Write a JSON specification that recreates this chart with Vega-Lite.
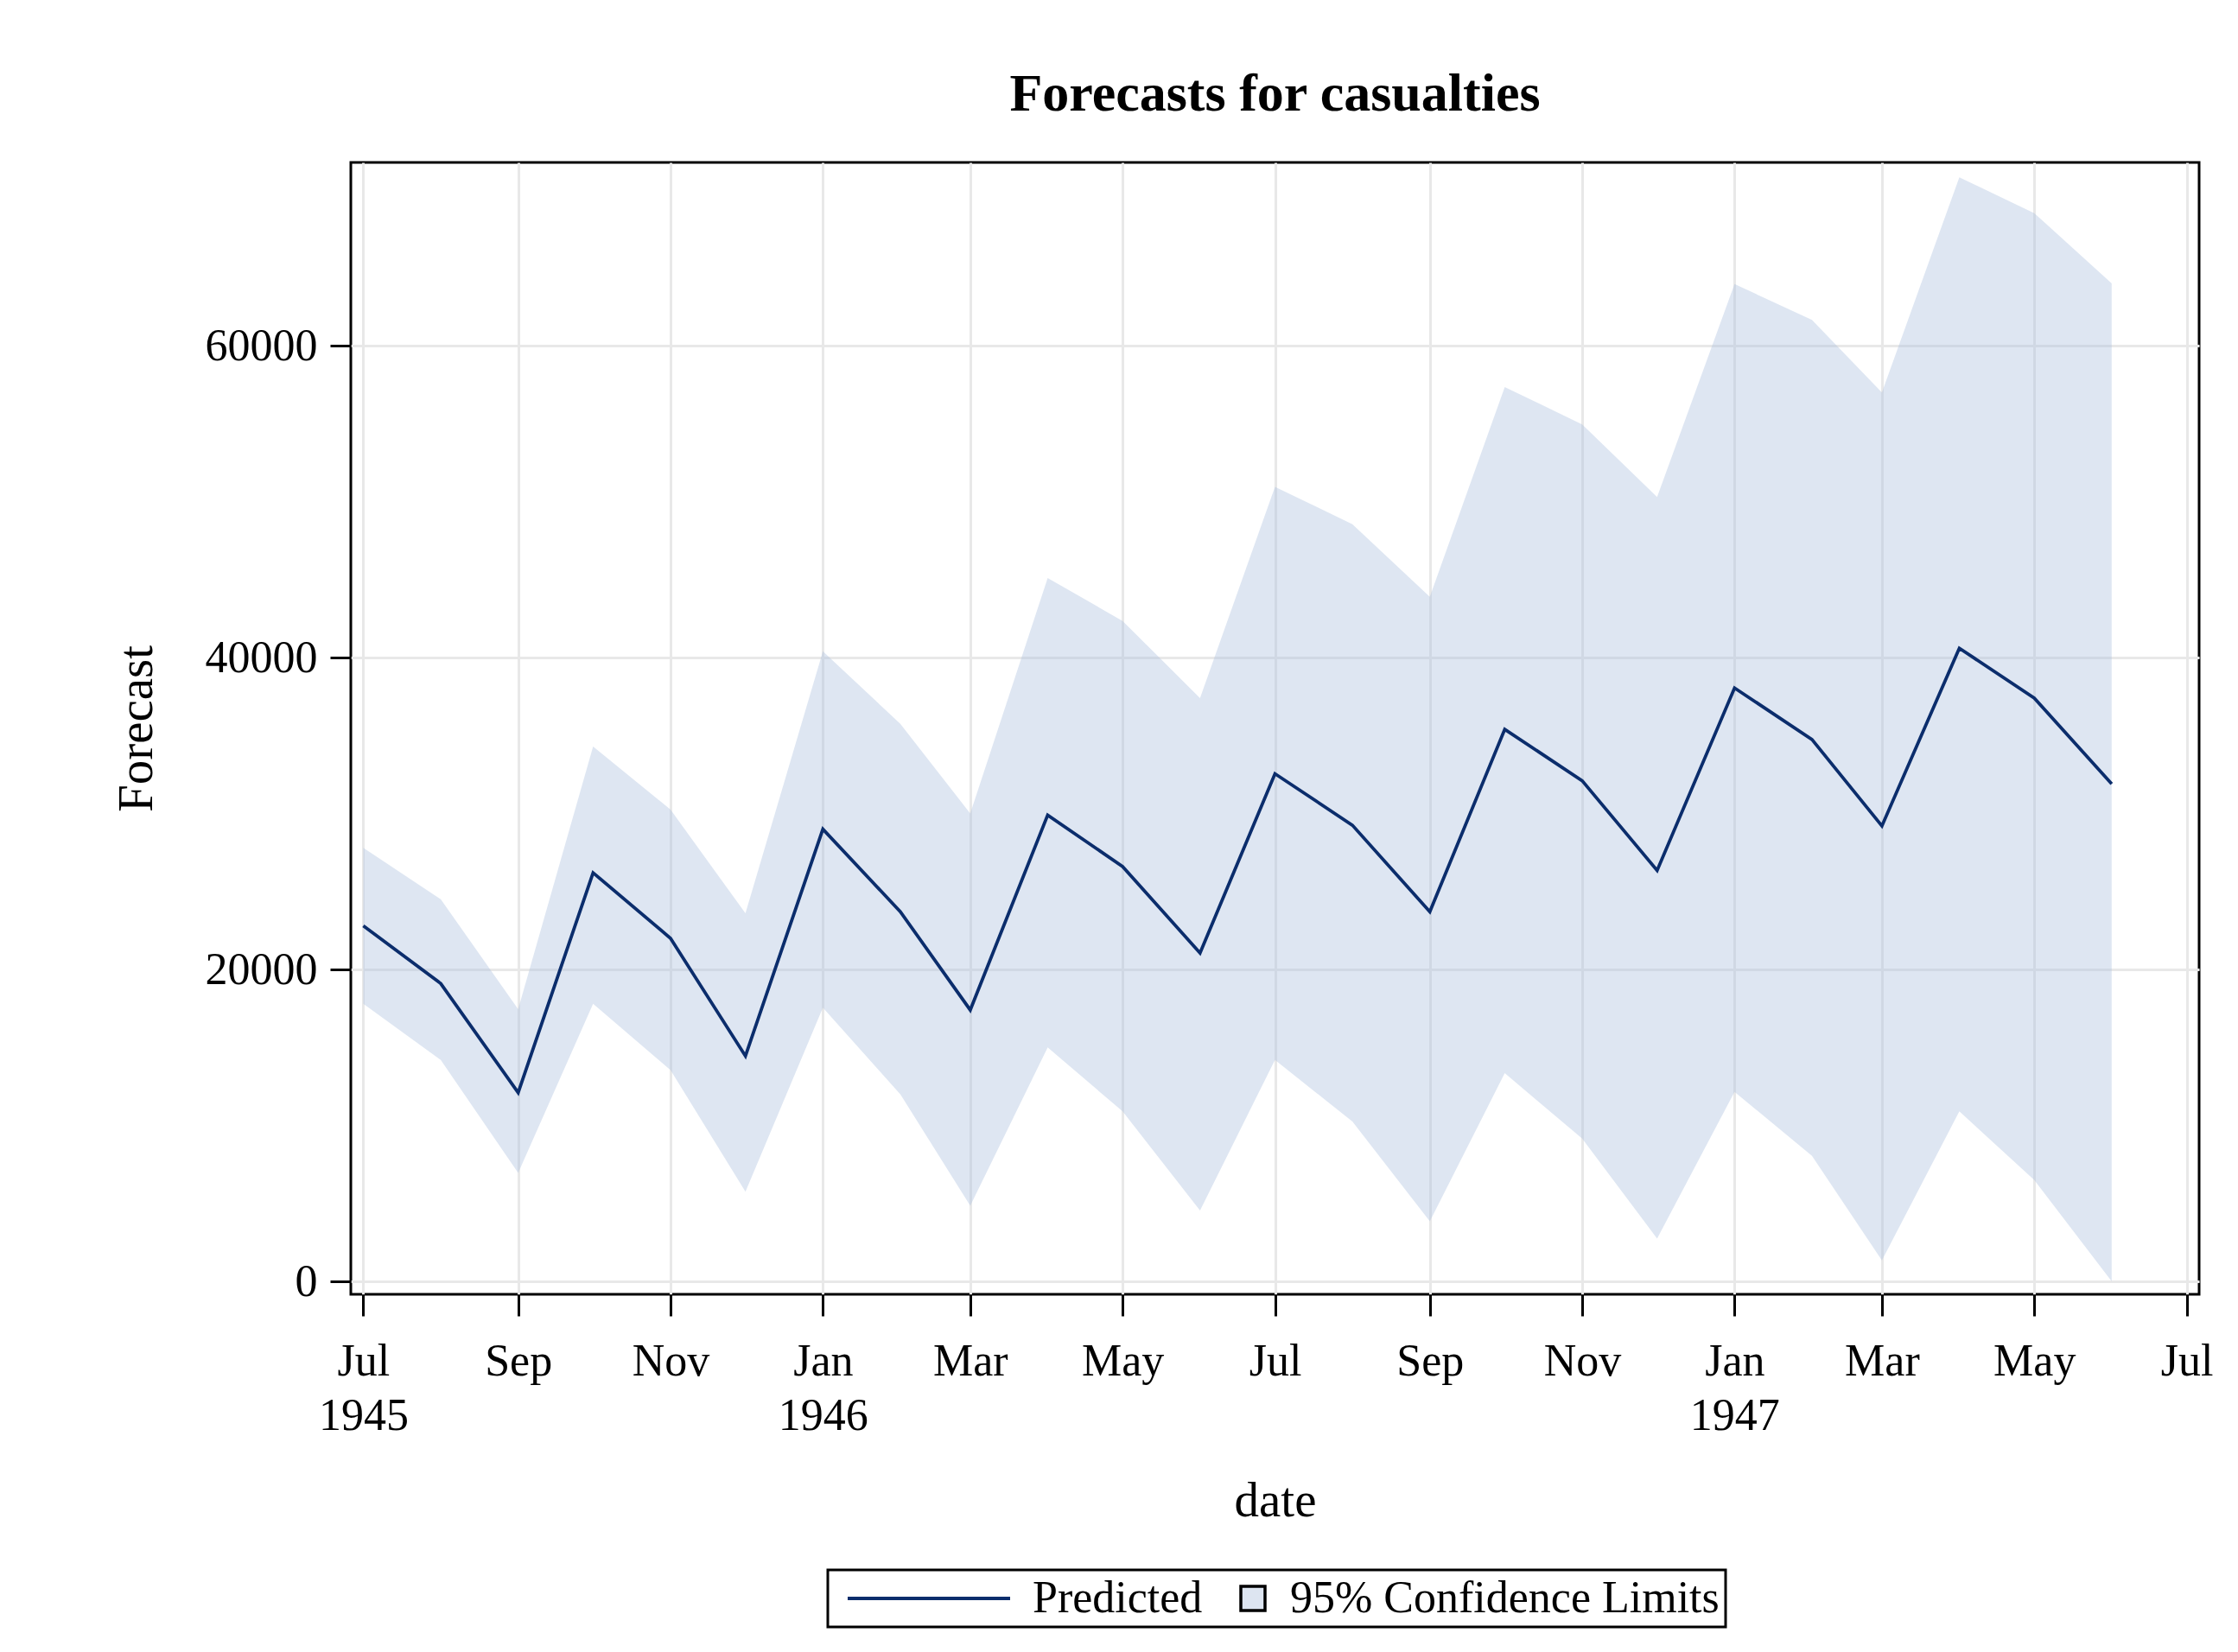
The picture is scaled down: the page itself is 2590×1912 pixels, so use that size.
{
  "$schema": "https://vega.github.io/schema/vega-lite/v6.json",
  "autosize": "none",
  "width": 2139,
  "height": 1310,
  "padding": {"left": 406, "top": 188, "right": 45, "bottom": 414},
  "background": "white",
  "title": {"text": "Forecasts for casualties", "font": "Liberation Serif", "fontSize": 62, "fontWeight": "bold", "color": "black", "baseline": "alphabetic", "offset": -2, "anchor": "middle"},
  "data": {"values": [
    {"date": "1945-07-01", "predicted": 22800, "lower": 17800, "upper": 27800},
    {"date": "1945-08-01", "predicted": 19100, "lower": 14200, "upper": 24500},
    {"date": "1945-09-01", "predicted": 12100, "lower": 6950, "upper": 17450},
    {"date": "1945-10-01", "predicted": 26200, "lower": 17800, "upper": 34300},
    {"date": "1945-11-01", "predicted": 22000, "lower": 13550, "upper": 30250},
    {"date": "1945-12-01", "predicted": 14450, "lower": 5750, "upper": 23600},
    {"date": "1946-01-01", "predicted": 29000, "lower": 17550, "upper": 40400},
    {"date": "1946-02-01", "predicted": 23700, "lower": 12000, "upper": 35750},
    {"date": "1946-03-01", "predicted": 17400, "lower": 4850, "upper": 30000},
    {"date": "1946-04-01", "predicted": 29900, "lower": 15000, "upper": 45100},
    {"date": "1946-05-01", "predicted": 26600, "lower": 10900, "upper": 42350},
    {"date": "1946-06-01", "predicted": 21050, "lower": 4550, "upper": 37400},
    {"date": "1946-07-01", "predicted": 32550, "lower": 14200, "upper": 50950},
    {"date": "1946-08-01", "predicted": 29250, "lower": 10250, "upper": 48550},
    {"date": "1946-09-01", "predicted": 23700, "lower": 3850, "upper": 43900},
    {"date": "1946-10-01", "predicted": 35400, "lower": 13350, "upper": 57350},
    {"date": "1946-11-01", "predicted": 32100, "lower": 9150, "upper": 54950},
    {"date": "1946-12-01", "predicted": 26350, "lower": 2750, "upper": 50300},
    {"date": "1947-01-01", "predicted": 38050, "lower": 12150, "upper": 63950},
    {"date": "1947-02-01", "predicted": 34750, "lower": 8050, "upper": 61650},
    {"date": "1947-03-01", "predicted": 29200, "lower": 1350, "upper": 57000},
    {"date": "1947-04-01", "predicted": 40600, "lower": 10900, "upper": 70800},
    {"date": "1947-05-01", "predicted": 37400, "lower": 6500, "upper": 68500},
    {"date": "1947-06-01", "predicted": 31900, "lower": 0, "upper": 64000}
  ]},
  "encoding": {
    "x": {
      "field": "date", "type": "temporal", "title": "date",
      "scale": {"type": "utc", "domain": [{"year": 1945, "month": 6, "date": 26, "utc": true}, {"year": 1947, "month": 7, "date": 6, "utc": true}]},
      "axis": {
        "values": [
          {"year": 1945, "month": 7, "date": 1, "utc": true},
          {"year": 1945, "month": 9, "date": 1, "utc": true},
          {"year": 1945, "month": 11, "date": 1, "utc": true},
          {"year": 1946, "month": 1, "date": 1, "utc": true},
          {"year": 1946, "month": 3, "date": 1, "utc": true},
          {"year": 1946, "month": 5, "date": 1, "utc": true},
          {"year": 1946, "month": 7, "date": 1, "utc": true},
          {"year": 1946, "month": 9, "date": 1, "utc": true},
          {"year": 1946, "month": 11, "date": 1, "utc": true},
          {"year": 1947, "month": 1, "date": 1, "utc": true},
          {"year": 1947, "month": 3, "date": 1, "utc": true},
          {"year": 1947, "month": 5, "date": 1, "utc": true},
          {"year": 1947, "month": 7, "date": 1, "utc": true}
        ],
        "labelExpr": "utcmonth(datum.value) == 0 || (utcyear(datum.value) == 1945 && utcmonth(datum.value) == 6) ? [utcFormat(datum.value, '%b'), utcFormat(datum.value, '%Y')] : utcFormat(datum.value, '%b')",
        "labelOverlap": false, "labelFlush": false, "labelBound": false,
        "tickSize": 25, "labelPadding": 27, "labelBaseline": "top", "labelLineHeight": 63,
        "titlePadding": 45
      }
    }
  },
  "layer": [
    {
      "mark": {"type": "area", "fill": "#acc0de", "fillOpacity": 0.4, "strokeWidth": 0, "interpolate": "linear"},
      "encoding": {
        "y": {"field": "lower", "type": "quantitative"},
        "y2": {"field": "upper"},
        "stroke": {"datum": "95% Confidence Limits"}
      }
    },
    {
      "mark": {"type": "line", "strokeWidth": 3.8},
      "encoding": {
        "y": {
          "field": "predicted", "type": "quantitative", "title": "Forecast",
          "scale": {"domain": [-830, 71750], "nice": false, "zero": false},
          "axis": {"values": [0, 20000, 40000, 60000], "format": "d", "tickSize": 24, "labelPadding": 15, "titlePadding": 50}
        },
        "stroke": {
          "datum": "Predicted",
          "scale": {"domain": ["Predicted", "95% Confidence Limits"], "range": ["#0b2d6c", "#000000"]},
          "legend": {
            "orient": "none", "legendX": 552, "legendY": 1629, "direction": "horizontal", "title": null,
            "encode": {
              "symbols": {"update": {
                "shape": {"signal": "datum.value === 'Predicted' ? 'M-4,0H4' : 'square'"},
                "size": {"signal": "datum.value === 'Predicted' ? 2209 : 784"},
                "x": {"signal": "datum.value === 'Predicted' ? 110 : 14"},
                "fill": {"signal": "datum.value === 'Predicted' ? 'transparent' : '#dde5f1'"},
                "strokeWidth": {"signal": "datum.value === 'Predicted' ? 3.8 : 3.5"},
                "opacity": {"value": 1}
              }},
              "labels": {"update": {
                "x": {"signal": "datum.value === 'Predicted' ? 230 : 57"}
              }}
            }
          }
        }
      }
    }
  ],
  "resolve": {"scale": {"stroke": "shared"}},
  "config": {
    "font": "Liberation Serif",
    "view": {"stroke": "black", "strokeWidth": 3, "fill": "white"},
    "axis": {
      "labelFont": "Liberation Serif", "labelFontSize": 52, "labelColor": "black",
      "titleFont": "Liberation Serif", "titleFontSize": 57, "titleFontWeight": "normal", "titleColor": "black",
      "domain": false, "tickColor": "black", "tickWidth": 3,
      "grid": true, "gridColor": "#e8e8e8", "gridWidth": 3
    },
    "legend": {
      "strokeColor": "black", "strokeWidth": 3, "fillColor": "white", "padding": 7,
      "labelFont": "Liberation Serif", "labelFontSize": 52, "labelColor": "black", "labelLimit": 0,
      "symbolSize": 2209, "symbolStrokeWidth": 3.5, "symbolFillColor": "#dde5f1",
      "columnPadding": 37
    }
  }
}
